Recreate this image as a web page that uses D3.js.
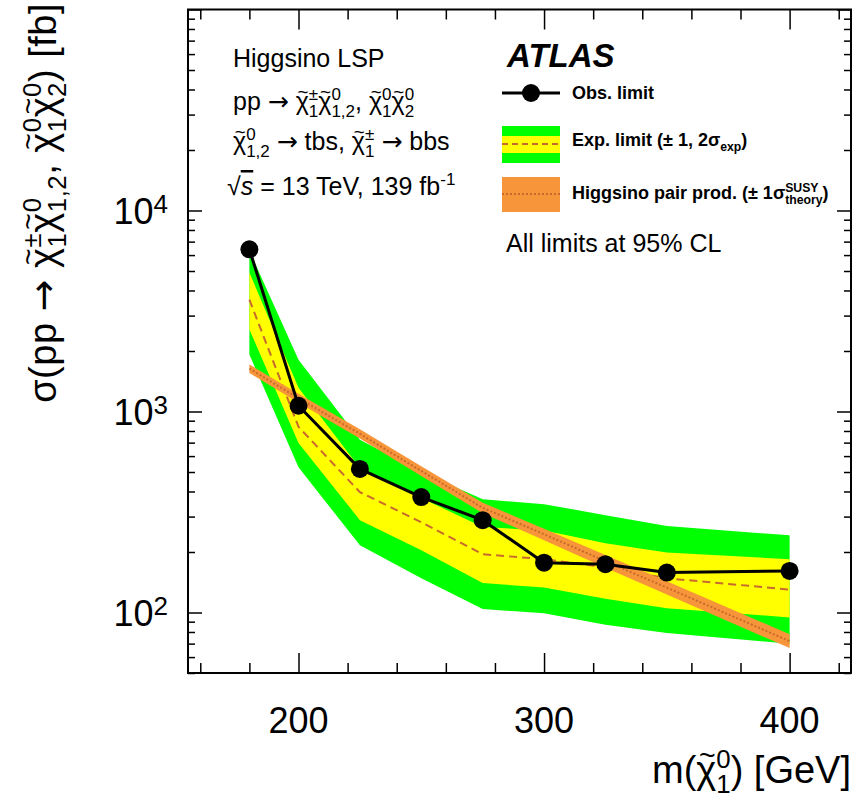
<!DOCTYPE html>
<html>
<head>
<meta charset="utf-8">
<script src="https://cdn.jsdelivr.net/npm/d3@7"></script>
<style>
  body { margin: 0; background: #fff; }
  text { font-family: "Liberation Sans", Arial, Helvetica, sans-serif; }
</style>
</head>
<body>
<script>
// ---- data ----
var mass      = [180, 200, 225, 250, 275, 300, 325, 350, 400];
var obsLimit  = [6410, 1068, 518, 375, 288, 177, 174, 158, 161];
var expLimit  = [3600, 839, 397, 281, 195, 184, 168, 148, 130];
var exp1Up    = [4910, 1313, 524, 371, 266, 256, 221, 199, 184];
var exp1Down  = [2560, 697, 288, 204, 140, 133, 117, 105, 94.5];
var exp2Up    = [6300, 1810, 723, 500, 366, 346, 305, 269, 242];
var exp2Down  = [1920, 528, 216, 148, 104, 99, 87, 79, 70];
var theory    = [1635, 1165, 774, 506, 332, 245, 180, 133, 72];
var theoryUp  = [1715, 1225, 815, 534, 352, 261, 193, 143, 78];
var theoryDown= [1555, 1105, 733, 478, 312, 229, 167, 123, 66.5];

var xMajor = [200, 300, 400];
var xMinor = [160, 180, 220, 240, 260, 280, 320, 340, 360, 380, 420];
var yLabelExp = [2, 3, 4];

var W = 856, H = 797;
var frame = {left: 188, right: 851, top: 9.5, bottom: 673};
var green = "#00ff00", yellow = "#ffff00", orange = "#f7953a", brown = "#c8692e";

var svg = d3.select("body").append("svg").attr("width", W).attr("height", H);
svg.append("rect").attr("width", W).attr("height", H).attr("fill", "#fff");

var x = d3.scaleLinear().domain([155, 425]).range([frame.left, frame.right]);
var y = d3.scaleLog().domain([50, 1e5]).range([frame.bottom, frame.top]);

// rich text with ROOT-like stacked super/subscripts and tilde accents
function rich(parent, px, py, fs, parts, attrs, anchorEnd) {
  var g = parent.append("g");
  var t = g.append("text").attr("x", px).attr("y", py).attr("font-size", fs);
  Object.keys(attrs || {}).forEach(function (k) { t.attr(k, attrs[k]); });
  var pend = 0, idx = 0, tildes = [];
  var sfs = fs * 0.68;
  parts.forEach(function (p) {
    if (typeof p === "string") p = {b: p};
    var base = t.append("tspan").attr("y", py).attr("dx", pend).text(p.b);
    if (p.it) base.attr("font-style", "italic");
    if (p.over) base.attr("text-decoration", "overline");
    if (p.font) base.attr("font-family", p.font);
    if (p.tilde) tildes.push(idx);
    idx += p.b.length;
    pend = 0;
    var ws = 0, wb = 0;
    if (p.sup) {
      var s = t.append("tspan").attr("y", py - fs * 0.4).attr("font-size", sfs).text(p.sup);
      ws = s.node().getComputedTextLength();
      idx += p.sup.length;
    }
    if (p.sub) {
      var b = t.append("tspan").attr("y", py + fs * 0.27).attr("font-size", sfs)
        .attr("dx", p.sup ? -ws : 0).text(p.sub);
      wb = b.node().getComputedTextLength();
      idx += p.sub.length;
      if (p.sup && ws > wb) pend = ws - wb;
    }
  });
  tildes.forEach(function (i) {
    var e = t.node().getExtentOfChar(i);
    g.append("text").attr("x", e.x + e.width / 2 + fs * 0.03).attr("y", py - fs * 0.47)
      .attr("font-size", fs * 0.75).attr("text-anchor", "middle").text("~");
  });
  if (anchorEnd) {
    var bb = g.node().getBBox();
    g.attr("transform", "translate(" + (px - (bb.x + bb.width)) + ",0)");
  }
  return g;
}

function chi(sup, sub) { return {b: "\u03c7", tilde: true, sup: sup, sub: sub}; }
var arrow = {b: "\u2192", font: "DejaVu Sans"};

// ---- bands ----
var pts = mass.map(function (m, i) { return i; });
var band = function (lo, hi) {
  return d3.area().x(function (i) { return x(mass[i]); })
    .y0(function (i) { return y(lo[i]); }).y1(function (i) { return y(hi[i]); });
};
var line = function (arr) {
  return d3.line().x(function (i) { return x(mass[i]); }).y(function (i) { return y(arr[i]); });
};

var plot = svg.append("g");
plot.append("path").attr("d", band(exp2Down, exp2Up)(pts)).attr("fill", green);
plot.append("path").attr("d", band(exp1Down, exp1Up)(pts)).attr("fill", yellow);
plot.append("path").attr("d", line(expLimit)(pts)).attr("fill", "none")
  .attr("stroke", brown).attr("stroke-width", 2).attr("stroke-dasharray", "8,5");
plot.append("path").attr("d", band(theoryDown, theoryUp)(pts)).attr("fill", orange);
plot.append("path").attr("d", line(theory)(pts)).attr("fill", "none")
  .attr("stroke", brown).attr("stroke-width", 2).attr("stroke-dasharray", "2,2");
plot.append("path").attr("d", line(obsLimit)(pts)).attr("fill", "none")
  .attr("stroke", "#000").attr("stroke-width", 3);
plot.selectAll("circle.obs").data(pts).enter().append("circle")
  .attr("cx", function (i) { return x(mass[i]); })
  .attr("cy", function (i) { return y(obsLimit[i]); })
  .attr("r", 9).attr("fill", "#000");

// ---- axes (ticks inward on all four sides) ----
var yMinor = [];
[10, 100, 1000, 10000].forEach(function (d) {
  for (var k = 2; k <= 9; k++) { var v = d * k; if (v >= 50 && v <= 1e5) yMinor.push(v); }
});
var yMajor = [100, 1000, 10000, 100000];

function ticks(axis, vals, size, tr) {
  var g = svg.append("g").attr("transform", tr)
    .call(axis.tickValues(vals).tickSize(-size).tickFormat(""));
  g.select(".domain").remove();
  g.selectAll(".tick line").attr("stroke", "#000").attr("stroke-width", 1.5);
}
ticks(d3.axisBottom(x), xMinor, 10, "translate(0," + frame.bottom + ")");
ticks(d3.axisBottom(x), xMajor, 20, "translate(0," + frame.bottom + ")");
ticks(d3.axisTop(x), xMinor, 10, "translate(0," + frame.top + ")");
ticks(d3.axisTop(x), xMajor, 20, "translate(0," + frame.top + ")");
ticks(d3.axisLeft(y), yMinor, 7, "translate(" + frame.left + ",0)");
ticks(d3.axisLeft(y), yMajor, 14, "translate(" + frame.left + ",0)");
ticks(d3.axisRight(y), yMinor, 7, "translate(" + frame.right + ",0)");
ticks(d3.axisRight(y), yMajor, 14, "translate(" + frame.right + ",0)");

svg.append("rect").attr("x", frame.left).attr("y", frame.top)
  .attr("width", frame.right - frame.left).attr("height", frame.bottom - frame.top)
  .attr("fill", "none").attr("stroke", "#000").attr("stroke-width", 2);

// tick labels
xMajor.forEach(function (v) {
  svg.append("text").attr("x", x(v)).attr("y", 733).attr("font-size", 36)
    .attr("text-anchor", "middle").text(v);
});
yLabelExp.forEach(function (e) {
  var v = Math.pow(10, e);
  var t = svg.append("text").attr("x", 168).attr("y", y(v) + 14).attr("font-size", 36)
    .attr("text-anchor", "end");
  t.append("tspan").text("10");
  t.append("tspan").attr("dy", -11).attr("font-size", 26).text(e);
});

// axis titles
rich(svg, 851, 783, 38, ["m(", chi("0", "1"), ") [GeV]"], {}, true);
var yt = svg.append("g").attr("transform", "translate(56,3) rotate(-90)");
rich(yt, 0, 0, 38, ["\u03c3(pp ", arrow, " ", chi("\u00b1", "1"), chi("0", "1,2"),
  ", ", chi("0", "1"), chi("0", "2"), ") [fb]"], {"letter-spacing": 0.5}, true);

// ---- labels inside the frame ----
rich(svg, 233, 67, 25, ["Higgsino LSP"]);
rich(svg, 233, 110, 25, ["pp ", arrow, " ", chi("\u00b1", "1"), chi("0", "1,2"), ", ", chi("0", "1"), chi("0", "2")]);
rich(svg, 233, 150, 25, [chi("0", "1,2"), " ", arrow, " tbs, ", chi("\u00b1", "1"), " ", arrow, " bbs"]);
rich(svg, 227, 195, 25, ["\u221a", {b: "s", it: true, over: true}, " = 13 TeV, 139 fb", {b: "", sup: "-1"}]);

// ---- legend ----
svg.append("text").attr("x", 507).attr("y", 67).attr("font-size", 33)
  .attr("font-weight", "bold").attr("font-style", "italic").text("ATLAS");

var lx0 = 502, lx1 = 560, tx = 572;
svg.append("line").attr("x1", lx0).attr("x2", lx1).attr("y1", 93).attr("y2", 93)
  .attr("stroke", "#000").attr("stroke-width", 3);
svg.append("circle").attr("cx", (lx0 + lx1) / 2).attr("cy", 93).attr("r", 9).attr("fill", "#000");
rich(svg, tx, 99, 18, ["Obs. limit"], {"font-weight": "bold"});

svg.append("rect").attr("x", lx0).attr("y", 126).attr("width", lx1 - lx0).attr("height", 37).attr("fill", green);
svg.append("rect").attr("x", lx0).attr("y", 136).attr("width", lx1 - lx0).attr("height", 17).attr("fill", yellow);
svg.append("line").attr("x1", lx0).attr("x2", lx1).attr("y1", 144).attr("y2", 144)
  .attr("stroke", brown).attr("stroke-width", 2).attr("stroke-dasharray", "6,4");
rich(svg, tx, 146, 18, ["Exp. limit (\u00b1 1, 2\u03c3", {b: "", sub: "exp"}, ")"], {"font-weight": "bold"});

svg.append("rect").attr("x", lx0).attr("y", 177).attr("width", lx1 - lx0).attr("height", 35).attr("fill", orange);
svg.append("line").attr("x1", lx0).attr("x2", lx1).attr("y1", 194).attr("y2", 194)
  .attr("stroke", brown).attr("stroke-width", 2).attr("stroke-dasharray", "2,2");
rich(svg, tx, 199, 18, ["Higgsino pair prod. (\u00b1 1\u03c3", {b: "", sup: "SUSY", sub: "theory"}, ")"], {"font-weight": "bold"});

rich(svg, 506, 252, 25, ["All limits at 95% CL"]);
</script>
</body>
</html>
